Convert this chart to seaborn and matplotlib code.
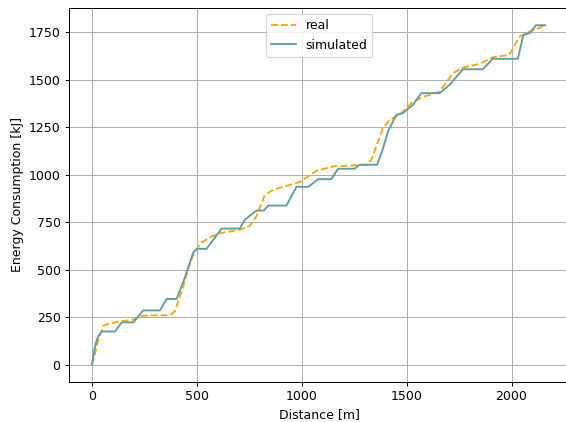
import numpy as np
import pandas as pd
import seaborn as sns
import matplotlib
matplotlib.use("Agg")
import matplotlib.pyplot as plt

# distance [m] / energy [kJ]
real_x = [0, 15, 30, 54, 78, 133, 197, 244, 300, 371, 395, 435, 467, 490, 522, 570, 610, 705,
          752, 784, 824, 863, 943, 990, 1006, 1070, 1149, 1308, 1332, 1387, 1419, 1467, 1530,
          1578, 1657, 1721, 1768, 1848, 1911, 1990, 2038, 2086, 2165]
real_y = [0, 60, 130, 205, 216, 228, 237, 258, 260, 261, 281, 412, 535, 596, 644, 675, 693, 711,
          732, 781, 895, 921, 947, 962, 974, 1021, 1044, 1053, 1079, 1246, 1289, 1316, 1386,
          1409, 1439, 1535, 1565, 1584, 1619, 1632, 1728, 1754, 1789]

sim_x = [0, 10, 20, 30, 46, 110, 141, 197, 244, 324, 356, 403, 440, 482, 499, 546, 618, 705,
         729, 784, 819, 840, 927, 975, 1031, 1078, 1141, 1173, 1252, 1276, 1359, 1385, 1411,
         1451, 1482, 1530, 1570, 1657, 1705, 1768, 1863, 1911, 2030, 2057, 2086, 2117, 2160]
sim_y = [0, 70, 120, 150, 175, 175, 223, 223, 286, 286, 346, 346, 450, 589, 610, 610, 717, 717,
         764, 812, 812, 838, 838, 937, 937, 977, 977, 1032, 1032, 1053, 1053, 1130, 1228,
         1316, 1325, 1368, 1430, 1430, 1474, 1556, 1556, 1611, 1611, 1737, 1746, 1788, 1788]

fig, ax = plt.subplots(figsize=(566 / 90, 422 / 90), dpi=90)
sns.lineplot(x=real_x, y=real_y, ax=ax, sort=False, estimator=None, color="orange",
             linestyle="--", label="real")
sns.lineplot(x=sim_x, y=sim_y, ax=ax, sort=False, estimator=None, color="cadetblue",
             label="simulated")
ax.grid(True)
ax.set_xlabel("Distance [m]")
ax.set_ylabel("Energy Consumption [kJ]")
ax.set_xticks([0, 500, 1000, 1500, 2000])
ax.set_yticks([0, 250, 500, 750, 1000, 1250, 1500, 1750])
ax.legend(loc="upper center")
plt.subplots_adjust(left=0.1224, right=1.005, top=0.981, bottom=0.0955)
plt.savefig("out.png", dpi=90)
